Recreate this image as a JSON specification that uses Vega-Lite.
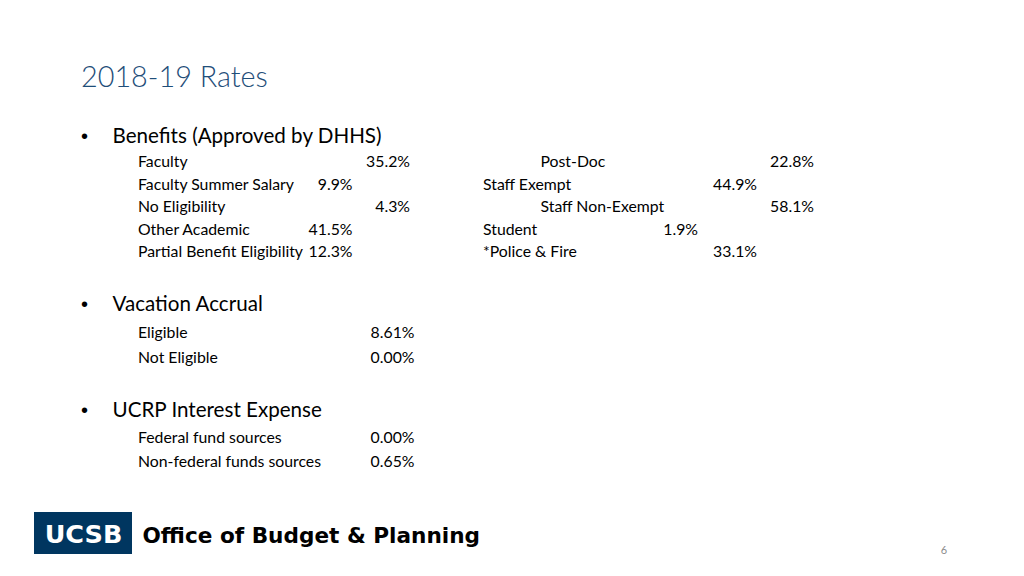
{
  "$schema": "https://vega.github.io/schema/vega-lite/v6.json",
  "width": 1024,
  "height": 576,
  "autosize": {"type": "none"},
  "padding": 0,
  "background": "white",
  "config": {"view": {"stroke": null}},
  "data": {"values": [
      {"kind": "title", "text": "2018-19 Rates", "line": 0, "labelStop": 1},
      {"kind": "header", "text": "Benefits (Approved by DHHS)", "line": 1, "labelStop": 4, "bulletStop": 3},
      {"kind": "header", "text": "Vacation Accrual", "line": 7, "labelStop": 4, "bulletStop": 3},
      {"kind": "header", "text": "UCRP Interest Expense", "line": 10, "labelStop": 4, "bulletStop": 3},
      {"kind": "item", "text": "Faculty", "rate": "35.2%", "line": 2, "labelStop": 6, "rateStop": 9},
      {"kind": "item", "text": "Faculty Summer Salary", "rate": "9.9%", "line": 3, "labelStop": 6, "rateStop": 8},
      {"kind": "item", "text": "No Eligibility", "rate": "4.3%", "line": 4, "labelStop": 6, "rateStop": 9},
      {"kind": "item", "text": "Other Academic", "rate": "41.5%", "line": 5, "labelStop": 6, "rateStop": 8},
      {"kind": "item", "text": "Partial Benefit Eligibility", "rate": "12.3%", "line": 6, "labelStop": 6, "rateStop": 8},
      {"kind": "item", "text": "Post-Doc", "rate": "22.8%", "line": 2, "labelStop": 12, "rateStop": 15},
      {"kind": "item", "text": "Staff Exempt", "rate": "44.9%", "line": 3, "labelStop": 11, "rateStop": 14},
      {"kind": "item", "text": "Staff Non-Exempt", "rate": "58.1%", "line": 4, "labelStop": 12, "rateStop": 15},
      {"kind": "item", "text": "Student", "rate": "1.9%", "line": 5, "labelStop": 11, "rateStop": 13},
      {"kind": "item", "text": "*Police & Fire", "rate": "33.1%", "line": 6, "labelStop": 11, "rateStop": 14},
      {"kind": "item", "text": "Eligible", "rate": "8.61%", "line": 8, "labelStop": 6, "rateStop": 10},
      {"kind": "item", "text": "Not Eligible", "rate": "0.00%", "line": 9, "labelStop": 6, "rateStop": 10},
      {"kind": "item", "text": "Federal fund sources", "rate": "0.00%", "line": 11, "labelStop": 6, "rateStop": 10},
      {"kind": "item", "text": "Non-federal funds sources", "rate": "0.65%", "line": 12, "labelStop": 6, "rateStop": 10},
      {"kind": "footer", "text": "Office of Budget & Planning", "logo": "UCSB", "page": "6", "line": 14, "labelStop": 7, "logoStop": 2, "pageStop": 16, "boxLeft": 0, "boxRight": 5, "boxTop": 13, "boxBottom": 15}
  ]},
  "encoding": {
    "y": {"field": "line", "type": "quantitative", "axis": null, "scale": {"domain": [0,1,2,3,4,5,6,7,8,9,10,11,12,13,14,15], "range": [87,143,167,189.5,212.3,234.5,257.3,311,338.3,363.3,416.7,442.7,467.3,512,543,554], "zero": false, "nice": false}},
    "x": {"field": "labelStop", "type": "quantitative", "axis": null, "scale": {"domain": [0,1,2,3,4,5,6,7,8,9,10,11,12,13,14,15,16], "range": [34,81,83.5,84.4,112.5,132,138,142.5,352.5,410,414.5,483,540.5,698,757,814,944], "zero": false, "nice": false}}
  },
  "layer": [
    {
      "transform": [{"filter": "datum.kind === 'footer'"}],
      "mark": {"type": "rect", "color": "#003660"},
      "encoding": {
        "x": {"field": "boxLeft", "type": "quantitative", "axis": null},
        "x2": {"field": "boxRight"},
        "y": {"field": "boxTop", "type": "quantitative", "axis": null},
        "y2": {"field": "boxBottom"}
      }
    },
    {
      "transform": [{"filter": "datum.kind === 'footer'"}],
      "mark": {"type": "text", "align": "center", "baseline": "alphabetic", "font": "DejaVu Sans", "fontWeight": "bold", "fontSize": 25.5, "color": "white"},
      "encoding": {
        "x": {"field": "logoStop", "type": "quantitative", "axis": null},
        "text": {"field": "logo"}
      }
    },
    {
      "transform": [{"filter": "datum.kind === 'footer'"}],
      "mark": {"type": "text", "align": "center", "baseline": "alphabetic", "font": "Lato", "fontSize": 11, "color": "#8c8c8c"},
      "encoding": {
        "x": {"field": "pageStop", "type": "quantitative", "axis": null},
        "y": {"field": "boxBottom", "type": "quantitative", "axis": null},
        "text": {"field": "page"}
      }
    },
    {
      "transform": [{"filter": "datum.kind === 'footer'"}],
      "mark": {"type": "text", "align": "left", "baseline": "alphabetic", "font": "DejaVu Sans", "fontWeight": "bold", "fontSize": 21.6, "color": "black"},
      "encoding": {
        "text": {"field": "text"}
      }
    },
    {
      "transform": [{"filter": "datum.kind === 'title'"}],
      "mark": {"type": "text", "align": "left", "baseline": "alphabetic", "font": "Lato", "fontWeight": 300, "fontSize": 28.8, "color": "#1F4E79"},
      "encoding": {
        "text": {"field": "text"}
      }
    },
    {
      "transform": [{"filter": "datum.kind === 'header'"}],
      "mark": {"type": "text", "align": "center", "baseline": "alphabetic", "font": "Liberation Sans", "fontSize": 20, "color": "black", "text": "•"},
      "encoding": {
        "x": {"field": "bulletStop", "type": "quantitative", "axis": null}
      }
    },
    {
      "transform": [{"filter": "datum.kind === 'header'"}],
      "mark": {"type": "text", "align": "left", "baseline": "alphabetic", "font": "Lato", "fontSize": 20.6, "color": "black"},
      "encoding": {
        "text": {"field": "text"}
      }
    },
    {
      "transform": [{"filter": "datum.kind === 'item'"}],
      "mark": {"type": "text", "align": "left", "baseline": "alphabetic", "font": "Lato", "fontSize": 15.8, "color": "black"},
      "encoding": {
        "text": {"field": "text"}
      }
    },
    {
      "transform": [{"filter": "datum.kind === 'item'"}],
      "mark": {"type": "text", "align": "right", "baseline": "alphabetic", "font": "Lato", "fontSize": 15.8, "color": "black"},
      "encoding": {
        "x": {"field": "rateStop", "type": "quantitative", "axis": null},
        "text": {"field": "rate"}
      }
    }
  ]
}
